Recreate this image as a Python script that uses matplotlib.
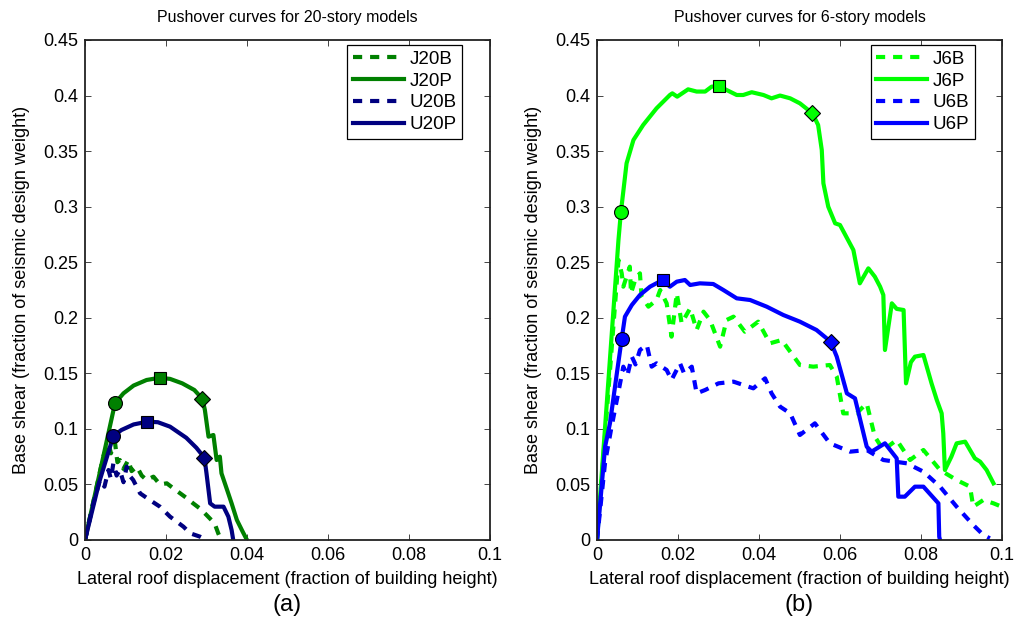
import numpy as np
import matplotlib
matplotlib.use("Agg")
import matplotlib.pyplot as plt
from matplotlib.ticker import FixedLocator, FixedFormatter

plt.rcParams['font.family'] = ['Liberation Sans', 'DejaVu Sans']

# ---- 20-story models (a) ----
j20p_x = [0, 0.0074, 0.0095, 0.012, 0.0152, 0.0184, 0.021, 0.024, 0.027, 0.029,
          0.0296, 0.0305, 0.0317, 0.0325, 0.0333, 0.0337, 0.035, 0.0362, 0.0375, 0.039, 0.040]
j20p_y = [0, 0.123, 0.132, 0.139, 0.144, 0.146, 0.145, 0.141, 0.135, 0.127,
          0.117, 0.093, 0.0945, 0.072, 0.075, 0.060, 0.046, 0.033, 0.018, 0.007, 0]

u20p_x = [0, 0.0035, 0.007, 0.009, 0.012, 0.0154, 0.018, 0.021, 0.025, 0.0275, 0.0295,
          0.030, 0.0309, 0.032, 0.0342, 0.0354, 0.0362, 0.0366]
u20p_y = [0, 0.052, 0.0936, 0.099, 0.104, 0.1065, 0.106, 0.102, 0.092, 0.083, 0.074,
          0.060, 0.033, 0.030, 0.030, 0.021, 0.009, 0]

j20b_x = [0, 0.0045, 0.0058, 0.0064, 0.0074, 0.0080, 0.0086, 0.0095, 0.0107, 0.0115,
          0.0128, 0.014, 0.0152, 0.0169, 0.0185, 0.0202, 0.022, 0.0235, 0.025, 0.0267,
          0.0285, 0.030, 0.032, 0.0329, 0.0336]
j20b_y = [0, 0.075, 0.087, 0.078, 0.088, 0.070, 0.072, 0.064, 0.072, 0.062,
          0.066, 0.058, 0.054, 0.057, 0.050, 0.051, 0.046, 0.042, 0.038, 0.033,
          0.028, 0.0225, 0.015, 0.006, 0]

u20b_x = [0, 0.002, 0.0037, 0.0048, 0.0058, 0.0064, 0.007, 0.0078, 0.0086, 0.0095,
          0.0103, 0.011, 0.0119, 0.0136, 0.016, 0.0185, 0.021, 0.0243, 0.026, 0.0284, 0.030]
u20b_y = [0, 0.032, 0.054, 0.048, 0.063, 0.055, 0.069, 0.058, 0.063, 0.052,
          0.066, 0.058, 0.054, 0.042, 0.036, 0.030, 0.021, 0.012, 0.006, 0.003, 0]

# ---- 6-story models (b) ----
j6p_x = [0, 0.0053, 0.0059, 0.0073, 0.009, 0.0114, 0.0147, 0.018, 0.0186, 0.0198,
         0.0225, 0.0246, 0.0267, 0.0283, 0.0302, 0.032, 0.0345, 0.0361, 0.0382, 0.0411,
         0.0431, 0.0452, 0.0477, 0.0501, 0.0532, 0.0546, 0.0555, 0.0559, 0.0571, 0.0588,
         0.060, 0.0633, 0.0649, 0.067, 0.0686, 0.0699, 0.0707, 0.0711, 0.0728, 0.074,
         0.0757, 0.0763, 0.0775, 0.0785, 0.0806, 0.0826, 0.0839, 0.0851, 0.0855, 0.0859,
         0.0875, 0.0888, 0.0909, 0.0933, 0.0946, 0.0962, 0.0979]
j6p_y = [0, 0.270, 0.295, 0.339, 0.360, 0.3735, 0.3885, 0.4005, 0.402, 0.399,
         0.4056, 0.4036, 0.4036, 0.408, 0.4086, 0.405, 0.4005, 0.4005, 0.403, 0.4005,
         0.3975, 0.400, 0.3975, 0.393, 0.384, 0.3735, 0.351, 0.321, 0.300, 0.285,
         0.2835, 0.261, 0.231, 0.2445, 0.237, 0.228, 0.2205, 0.171, 0.213, 0.208,
         0.207, 0.141, 0.160, 0.165, 0.1665, 0.141, 0.126, 0.114, 0.096, 0.063,
         0.075, 0.087, 0.0885, 0.0735, 0.0705, 0.063, 0.051]

u6p_x = [0, 0.002, 0.0032, 0.0049, 0.0061, 0.0069, 0.0086, 0.0106, 0.0131, 0.0162,
         0.018, 0.0197, 0.0217, 0.023, 0.0254, 0.0287, 0.0312, 0.0345, 0.0378, 0.0419,
         0.046, 0.0501, 0.0542, 0.0577, 0.0592, 0.0617, 0.0637, 0.0666, 0.0678, 0.0711,
         0.074, 0.0744, 0.076, 0.0785, 0.0806, 0.0843, 0.0845, 0.0847]
u6p_y = [0, 0.084, 0.105, 0.150, 0.181, 0.201, 0.2115, 0.2205, 0.228, 0.234,
         0.228, 0.2325, 0.234, 0.2295, 0.231, 0.2304, 0.225, 0.2175, 0.216, 0.210,
         0.2025, 0.1965, 0.189, 0.1785, 0.165, 0.132, 0.1275, 0.084, 0.0795, 0.087,
         0.0735, 0.039, 0.039, 0.048, 0.048, 0.033, 0.003, 0]

j6b_x = [0, 0.0053, 0.0061, 0.0065, 0.0081, 0.0084, 0.0095, 0.0106, 0.0110, 0.0127,
         0.0147, 0.0156, 0.0172, 0.0184, 0.0197, 0.0209, 0.023, 0.0246, 0.0263, 0.0279,
         0.0304, 0.032, 0.0337, 0.0365, 0.0398, 0.0427, 0.0456, 0.0501, 0.0534, 0.0575,
         0.0592, 0.0608, 0.0641, 0.0666, 0.0686, 0.0707, 0.074, 0.0773, 0.0806, 0.0847,
         0.0888, 0.0921, 0.0929, 0.0954, 0.0979, 0.0999]
j6b_y = [0, 0.252, 0.240, 0.228, 0.246, 0.222, 0.235, 0.240, 0.219, 0.210,
         0.216, 0.225, 0.213, 0.183, 0.222, 0.195, 0.2085, 0.189, 0.2055, 0.198,
         0.174, 0.198, 0.201, 0.1875, 0.1965, 0.177, 0.180, 0.1575, 0.156, 0.1575,
         0.147, 0.114, 0.114, 0.123, 0.093, 0.081, 0.090, 0.072, 0.081, 0.063,
         0.054, 0.048, 0.030, 0.036, 0.033, 0.030]

u6b_x = [0, 0.002, 0.0035, 0.0049, 0.0057, 0.0065, 0.0075, 0.0086, 0.0095, 0.0106,
         0.0123, 0.0135, 0.0147, 0.0172, 0.0184, 0.0205, 0.0215, 0.0234, 0.0246, 0.0267,
         0.030, 0.0337, 0.0386, 0.0415, 0.0431, 0.0452, 0.0477, 0.0501, 0.0538, 0.0575,
         0.0625, 0.0666, 0.0707, 0.0765, 0.0806, 0.0847, 0.0888, 0.0929, 0.0954, 0.097]
u6b_y = [0, 0.070, 0.100, 0.126, 0.141, 0.156, 0.148, 0.165, 0.158, 0.171,
         0.1755, 0.156, 0.159, 0.153, 0.144, 0.159, 0.150, 0.156, 0.132, 0.135,
         0.141, 0.1425, 0.1365, 0.1455, 0.132, 0.120, 0.114, 0.0945, 0.105, 0.087,
         0.0795, 0.081, 0.072, 0.069, 0.0615, 0.048, 0.030, 0.0135, 0.0045, 0.0015]

# markers: circle, square, diamond  (x, y)
j20p_marks = [(0.0074, 0.123), (0.0184, 0.146), (0.029, 0.127)]
u20p_marks = [(0.0070, 0.0936), (0.0154, 0.1065), (0.0295, 0.074)]
j6p_marks = [(0.0059, 0.295), (0.0302, 0.4086), (0.0532, 0.384)]
u6p_marks = [(0.0061, 0.181), (0.0162, 0.234), (0.0577, 0.1785)]

dark_green = '#008000'
navy = '#000080'
lime = '#00ff00'
blue = '#0000ff'

lw = 3.0
dash = (2.2, 1.9)
mshapes = ['o', 's', 'D']

fig = plt.figure(figsize=(10.27, 6.31), dpi=100)
ax1 = fig.add_axes([85 / 1027, 91 / 631, 405 / 1027, 500 / 631])
ax2 = fig.add_axes([597 / 1027, 91 / 631, 405 / 1027, 500 / 631])


def draw(ax, bx, by, px, py, ux, uy, vx, vy, c1, c2, names, m1, m2):
    ax.plot(bx, by, color=c1, lw=lw, dashes=dash, label=names[0])
    ax.plot(px, py, color=c1, lw=lw, label=names[1])
    ax.plot(ux, uy, color=c2, lw=lw, dashes=dash, label=names[2])
    ax.plot(vx, vy, color=c2, lw=lw, label=names[3])
    for marks, c in [(m1, c1), (m2, c2)]:
        for (x, y), s in zip(marks, mshapes):
            ax.plot(x, y, marker=s, ms=10 if s == 'o' else 8.5, color=c,
                    mec='black', mew=0.8, ls='none')


draw(ax1, j20b_x, j20b_y, j20p_x, j20p_y, u20b_x, u20b_y, u20p_x, u20p_y,
     dark_green, navy, ['J20B', 'J20P', 'U20B', 'U20P'], j20p_marks, u20p_marks)
draw(ax2, j6b_x, j6b_y, j6p_x, j6p_y, u6b_x, u6b_y, u6p_x, u6p_y,
     lime, blue, ['J6B', 'J6P', 'U6B', 'U6P'], j6p_marks, u6p_marks)

xt = [0, 0.02, 0.04, 0.06, 0.08, 0.1]
xtl = ['0', '0.02', '0.04', '0.06', '0.08', '0.1']
yt = [0, 0.05, 0.1, 0.15, 0.2, 0.25, 0.3, 0.35, 0.4, 0.45]
ytl = ['0', '0.05', '0.1', '0.15', '0.2', '0.25', '0.3', '0.35', '0.4', '0.45']

titles = ['Pushover curves for 20-story models', 'Pushover curves for 6-story models']
tags = ['(a)', '(b)']
legend_x = [0.931, 0.933]

for ax, t, tag, lx in zip([ax1, ax2], titles, tags, legend_x):
    ax.set_xlim(0, 0.1)
    ax.set_ylim(0, 0.45)
    ax.xaxis.set_major_locator(FixedLocator(xt))
    ax.xaxis.set_major_formatter(FixedFormatter(xtl))
    ax.yaxis.set_major_locator(FixedLocator(yt))
    ax.yaxis.set_major_formatter(FixedFormatter(ytl))
    ax.tick_params(direction='in', top=True, right=True, labelsize=13,
                   length=4, width=0.7, color='#444444', pad=5)
    for sp in ax.spines.values():
        sp.set_linewidth(1.3)
        sp.set_color('#222222')
    ax.set_title(t, fontsize=11.5, pad=13)
    ax.set_xlabel('Lateral roof displacement (fraction of building height)', fontsize=13, labelpad=5)
    ax.set_ylabel('Base shear (fraction of seismic design weight)', fontsize=13, labelpad=9)
    ax.text(0.5, -0.13, tag, transform=ax.transAxes, ha='center', va='center', fontsize=17)
    leg = ax.legend(loc='upper right', bbox_to_anchor=(lx, 0.99), fontsize=13.5,
                    handlelength=2.7, fancybox=False, framealpha=1,
                    borderpad=0.3, labelspacing=0.25, handletextpad=0.3,
                    borderaxespad=0)
    leg.get_frame().set_edgecolor('black')
    leg.get_frame().set_linewidth(0.9)

fig.savefig('out.png', dpi=100)
